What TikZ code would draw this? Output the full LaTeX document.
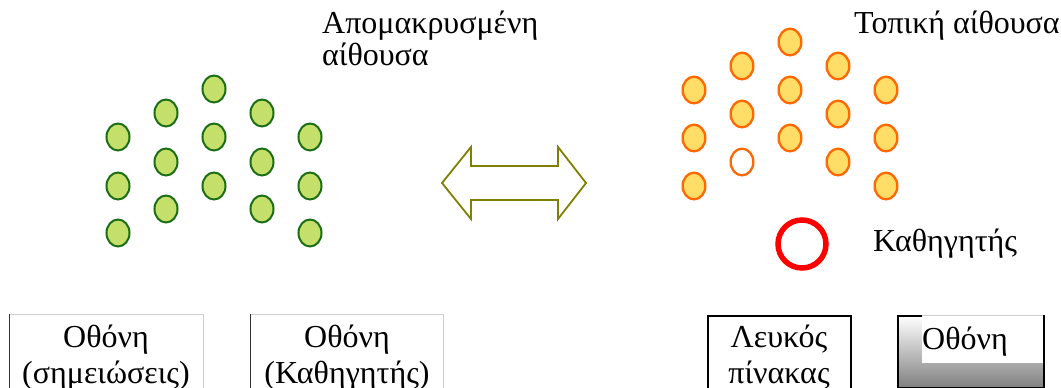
\documentclass[tikz,border=0pt]{standalone}
\usepackage{fontspec}
\setmainfont{Liberation Serif}
\usetikzlibrary{shapes.geometric}
\definecolor{greenfill}{RGB}{196,224,106}
\definecolor{greenline}{RGB}{28,110,20}
\definecolor{orangefill}{RGB}{255,221,102}
\definecolor{orangeline}{RGB}{255,104,0}
\definecolor{olivearrow}{RGB}{128,128,0}
\definecolor{lightedge}{RGB}{205,205,205}
\begin{document}
\begin{tikzpicture}[x=1pt,y=-1pt,
  greenseat/.style={ellipse, draw=greenline, fill=greenfill, line width=2pt, minimum width=23pt, minimum height=27pt, inner sep=0pt},
  orangeseat/.style={ellipse, draw=orangeline, fill=orangefill, line width=2.3pt, minimum width=22.7pt, minimum height=26.7pt, inner sep=0pt},
  emptyseat/.style={orangeseat, fill=white},
  teacher/.style={circle, draw=red, line width=5.5pt, minimum size=48pt, inner sep=0pt},
  lbl/.style={inner sep=0pt, font=\fontsize{32}{37}\selectfont},
  boxarea/.style={rectangle, inner sep=0pt}
]
\useasboundingbox (0,0) rectangle (1061,388);
\clip (0,0) rectangle (1061,388);

% ---- remote classroom (green) ----
\node[greenseat] (g11) at (118,137) {};
\node[greenseat] (g12) at (118,186) {};
\node[greenseat] (g13) at (118,233) {};
\node[greenseat] (g21) at (166,113) {};
\node[greenseat] (g22) at (166,162) {};
\node[greenseat] (g23) at (166,209) {};
\node[greenseat] (g31) at (214,89) {};
\node[greenseat] (g32) at (214,137) {};
\node[greenseat] (g33) at (214,186) {};
\node[greenseat] (g41) at (262,113) {};
\node[greenseat] (g42) at (262,162) {};
\node[greenseat] (g43) at (262,209) {};
\node[greenseat] (g51) at (310,137) {};
\node[greenseat] (g52) at (310,186) {};
\node[greenseat] (g53) at (310,233) {};

\node[lbl, anchor=base west] (remote1) at (322,33) {Απομακρυσμένη};
\node[lbl, anchor=base west] (remote2) at (322,65) {αίθουσα};

% ---- local classroom (orange) ----
\node[orangeseat] (o11) at (694,90) {};
\node[orangeseat] (o12) at (694,138) {};
\node[orangeseat] (o13) at (694,186) {};
\node[orangeseat] (o21) at (742,66) {};
\node[orangeseat] (o22) at (742,114) {};
\node[emptyseat]  (o23) at (742,162) {};
\node[orangeseat] (o31) at (790,42) {};
\node[orangeseat] (o32) at (790,90) {};
\node[orangeseat] (o33) at (790,138) {};
\node[orangeseat] (o41) at (838,66) {};
\node[orangeseat] (o42) at (838,114) {};
\node[orangeseat] (o43) at (838,162) {};
\node[orangeseat] (o51) at (886,90) {};
\node[orangeseat] (o52) at (886,138) {};
\node[orangeseat] (o53) at (886,186) {};

\node[lbl, anchor=base west] (local) at (854,33) {Τοπική αίθουσα};

\node[teacher] (prof) at (802,244) {};
\node[lbl, anchor=base west] (proflbl) at (873,251) {Καθηγητής};

% ---- double arrow ----
\draw[olivearrow, line width=1.8pt, line join=miter]
  (442,183) -- (471,147) -- (471,166) -- (558,166) -- (558,147) -- (586,183)
  -- (558,219) -- (558,200) -- (471,200) -- (471,219) -- cycle;

% ---- screens / boards ----
\node[boxarea, minimum width=194pt, minimum height=90pt, anchor=north west] (scr1) at (9,314) {};
\draw[lightedge, line width=1pt] (scr1.south east) -- (scr1.north east) -- (scr1.north west);
\draw[black!80, line width=1pt] (scr1.north west) -- (scr1.south west);
\node[lbl, anchor=base] (scr1a) at (106,347) {Οθόνη};
\node[lbl, anchor=base] (scr1b) at (106,383) {(σημειώσεις)};

\node[boxarea, minimum width=193pt, minimum height=90pt, anchor=north west] (scr2) at (250,314) {};
\draw[lightedge, line width=1pt] (scr2.south east) -- (scr2.north east) -- (scr2.north west);
\draw[black!80, line width=1pt] (scr2.north west) -- (scr2.south west);
\node[lbl, anchor=base] (scr2a) at (347,347) {Οθόνη};
\node[lbl, anchor=base] (scr2b) at (347,383) {(Καθηγητής)};

\node[boxarea, draw=black, line width=2pt, minimum width=143pt, minimum height=90pt, anchor=north west] (board) at (707,315) {};
\node[lbl, anchor=base] (boarda) at (779,347) {Λευκός};
\node[lbl, anchor=base] (boardb) at (779,383) {πίνακας};

\node[boxarea, minimum width=146pt, minimum height=72pt, anchor=north west,
      top color=white, bottom color=black!50, draw=black, line width=1.5pt] (scr3) at (897,315) {};
\node[boxarea, fill=white, minimum width=121pt, minimum height=48pt, anchor=north west] (scr3w) at (922,315) {};
\draw[lightedge, line width=1pt] (scr3w.north west) -- (scr3w.north east);
\node[lbl, anchor=base west] (scr3a) at (922,349) {Οθόνη};
\end{tikzpicture}
\end{document}
